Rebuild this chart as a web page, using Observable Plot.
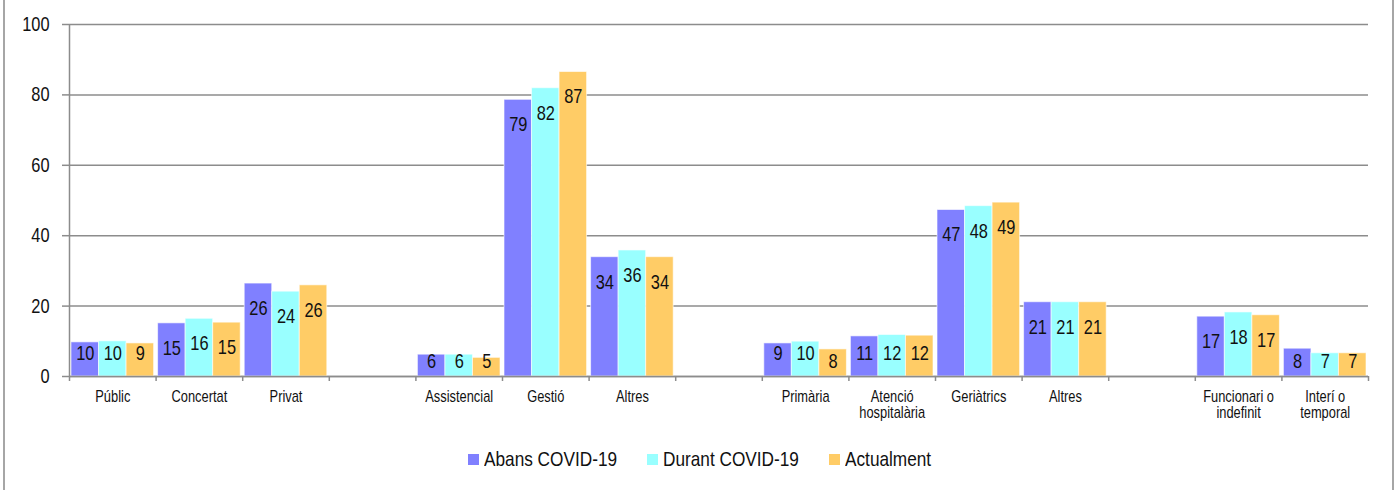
<!DOCTYPE html>
<html><head><meta charset="utf-8">
<script src="https://cdn.jsdelivr.net/npm/d3@7"></script>
<script src="https://cdn.jsdelivr.net/npm/@observablehq/plot@0.6"></script>
<style>
body{margin:0;background:#fff;font-family:"Liberation Sans",Arial,sans-serif;}
#wrap{position:relative;width:1399px;height:490px;overflow:hidden;}
#frame{position:absolute;left:3px;top:-5px;width:1387px;height:500px;border-left:2px solid #a6a6a6;border-right:2px solid #a6a6a6;pointer-events:none}
#legend{display:flex;justify-content:center;gap:30px;margin-top:9px;font-size:21px;line-height:20px;color:#111}
.item{display:flex;align-items:center;gap:5px;white-space:nowrap}
.sw{width:11px;height:11px;display:inline-block;flex:none}
.tx{display:inline-block;transform:scaleX(0.82);transform-origin:left center}
</style></head><body>
<div id="wrap"><div id="chart"></div><div id="legend"></div><div id="frame"></div></div>
<script>
const categories = ["Públic","Concertat","Privat","Assistencial","Gestió","Altres","Primària","Atenció\nhospitalària","Geriàtrics","Altres","Funcionari o\nindefinit","Interí o\ntemporal"];
const groups = ["A","A","A","B","B","B","C","C","C","C","D","D"];
const series = ["Abans COVID-19","Durant COVID-19","Actualment"];
const abans      = [9.7,15.1,26.4,6.2,78.6,33.9,9.4,11.4,47.3,21.1,17.0,7.9];
const durant     = [10.0,16.4,24.1,6.2,81.9,35.8,9.9,11.8,48.4,21.1,18.2,6.6];
const actualment = [9.4,15.3,25.9,5.3,86.5,33.9,7.7,11.6,49.4,21.1,17.4,6.6];
const colors = ["#8080ff","#99ffff","#ffcc66"];
const yTicks = [0,20,40,60,80,100];

const values = [abans, durant, actualment];
const slotKeys = [], slotLabel = new Map(), rows = [];
let prev = null;
categories.forEach((c, i) => {
  if (prev !== null && groups[i] !== prev) { const g = "gap" + i; slotKeys.push(g); slotLabel.set(g, ""); }
  prev = groups[i];
  const k = "c" + i; slotKeys.push(k); slotLabel.set(k, c);
  values.forEach((arr, s) => rows.push({slot: k, s, series: series[s], value: arr[i], label: Math.round(arr[i])}));
});

const W = 1399, H = 440, mL = 69, mR = 31, mT = 24, mB = 64;
const bw = (W - mL - mR) / slotKeys.length;
const pad = 2, sub = (bw - 2 * pad) / 3;
const gray = "#8c8c8c";
const NARROW = 0.82;

const marks = [
  Plot.gridY({ticks: yTicks, stroke: gray, strokeOpacity: 1, strokeWidth: 1.5}),
  Plot.axisY({ticks: yTicks, tickSize: 7, tickPadding: 13, fontSize: 20, stroke: gray, strokeWidth: 1.5, fill: "#111", label: null}),
];
series.forEach((name, s) => {
  const data = rows.filter(d => d.s === s);
  marks.push(Plot.barY(data, {x: "slot", y: "value", fill: "series",
    insetLeft: pad + s * sub, insetRight: bw - pad - (s + 1) * sub,
    stroke: "white", strokeOpacity: 0.6, strokeWidth: 1}));
  const ddx = -bw / 2 + pad + (s + 0.5) * sub;
  marks.push(Plot.text(data.filter(d => d.value >= 13.6), {x: "slot", y: "value", text: "label", dx: ddx, dy: 25, fontSize: 20, fill: "#111"}));
  marks.push(Plot.text(data.filter(d => d.value < 13.6 && d.value >= 9), {x: "slot", y: 0, text: "label", dx: ddx, dy: -23, fontSize: 20, fill: "#111"}));
  marks.push(Plot.text(data.filter(d => d.value < 9), {x: "slot", y: 0, text: "label", dx: ddx, dy: -15, fontSize: 20, fill: "#111"}));
});
marks.push(
  Plot.ruleY([0], {stroke: gray, strokeWidth: 1.5}),
  Plot.ruleX([slotKeys[0]], {x: d => d, y1: 0, y2: 100, dx: -bw / 2, stroke: gray, strokeWidth: 1.5}),
  Plot.axisX({tickSize: 5, tickFormat: () => "", dx: -bw / 2, stroke: gray, strokeWidth: 1.5, label: null}),
  Plot.axisX({ticks: [slotKeys[slotKeys.length - 1]], tickSize: 5, tickFormat: () => "", dx: bw / 2, stroke: gray, strokeWidth: 1.5, label: null}),
  Plot.axisX({tickSize: 0, tickPadding: 13, tickFormat: k => slotLabel.get(k), fontSize: 15.7, lineHeight: 1.08, fill: "#111", label: null})
);

const chart = Plot.plot({
  width: W, height: H, marginLeft: mL, marginRight: mR, marginTop: mT, marginBottom: mB,
  style: {fontFamily: '"Liberation Sans",Arial,sans-serif', background: "transparent", color: "#111"},
  x: {type: "band", domain: slotKeys, padding: 0, round: false},
  y: {domain: [0, 100]},
  color: {domain: series, range: colors},
  marks
});
// narrow the glyphs (Arial Narrow look) around each text's anchor point
chart.querySelectorAll("text").forEach(el => {
  const t = el.getAttribute("transform");
  if (t) el.setAttribute("transform", t + ` scale(${NARROW},1)`);
  else {
    const x = +(el.getAttribute("x") || 0), y = +(el.getAttribute("y") || 0);
    el.removeAttribute("x"); el.removeAttribute("y");
    el.setAttribute("transform", `translate(${x},${y}) scale(${NARROW},1)`);
  }
});
document.getElementById("chart").appendChild(chart);

const legend = document.getElementById("legend");
series.forEach((name, s) => {
  const it = document.createElement("div"); it.className = "item";
  const sw = document.createElement("span"); sw.className = "sw"; sw.style.background = colors[s];
  const box = document.createElement("span"); box.style.display = "inline-block"; box.style.overflow = "visible";
  const tx = document.createElement("span"); tx.className = "tx"; tx.textContent = name;
  box.appendChild(tx); it.appendChild(sw); it.appendChild(box); legend.appendChild(it);
  box.style.width = (tx.getBoundingClientRect().width) + "px";
});
</script>
</body></html>
